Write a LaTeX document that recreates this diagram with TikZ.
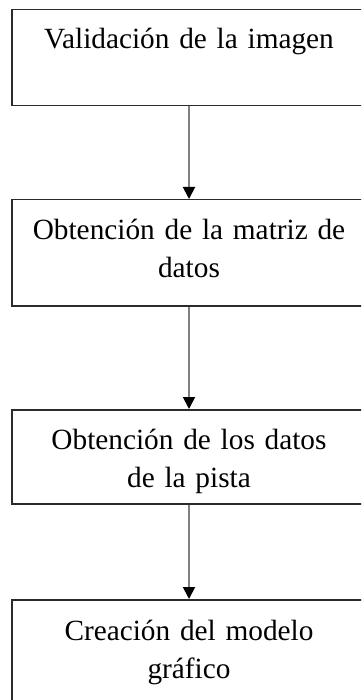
\documentclass[tikz,border=0pt]{standalone}
\usepackage{fontspec}
\setmainfont{Liberation Serif}
\usetikzlibrary{arrows.meta, positioning}
\definecolor{BoxLine}{HTML}{2B2B2B}
\definecolor{FlowGray}{HTML}{808080}

\begin{document}
\begin{tikzpicture}[x=1pt, y=1pt,
    stepbox/.style={draw=BoxLine, line width=1.5pt, inner xsep=8pt, inner ysep=0pt,
        text width=338pt, align=center, anchor=north, text height=40pt,
        font=\fontsize{29.3pt}{38pt}\selectfont},
    flow/.style={draw=FlowGray, line width=1.8pt, -{Triangle[length=12pt, width=12pt, color=black]}}]
    \useasboundingbox (0,0) rectangle (361,-700);
    \clip (0,0) rectangle (361,-700);

    \node[stepbox, text height=39pt, text depth=57pt] (valid) at (189,-9) {Validación de la imagen};
    \node[stepbox, text depth=66pt] (matriz) at (189,-199) {Obtención de la matriz de\\datos};
    \node[stepbox, text depth=54pt] (pista) at (189,-409) {Obtención de los datos\\de la pista};
    \node[stepbox, text height=41pt, text depth=120pt] (modelo) at (189,-599) {Creación del modelo\\gráfico};

    \draw[flow] (valid) -- (matriz);
    \draw[flow] (matriz) -- (pista);
    \draw[flow] (pista) -- (modelo);
\end{tikzpicture}
\end{document}
